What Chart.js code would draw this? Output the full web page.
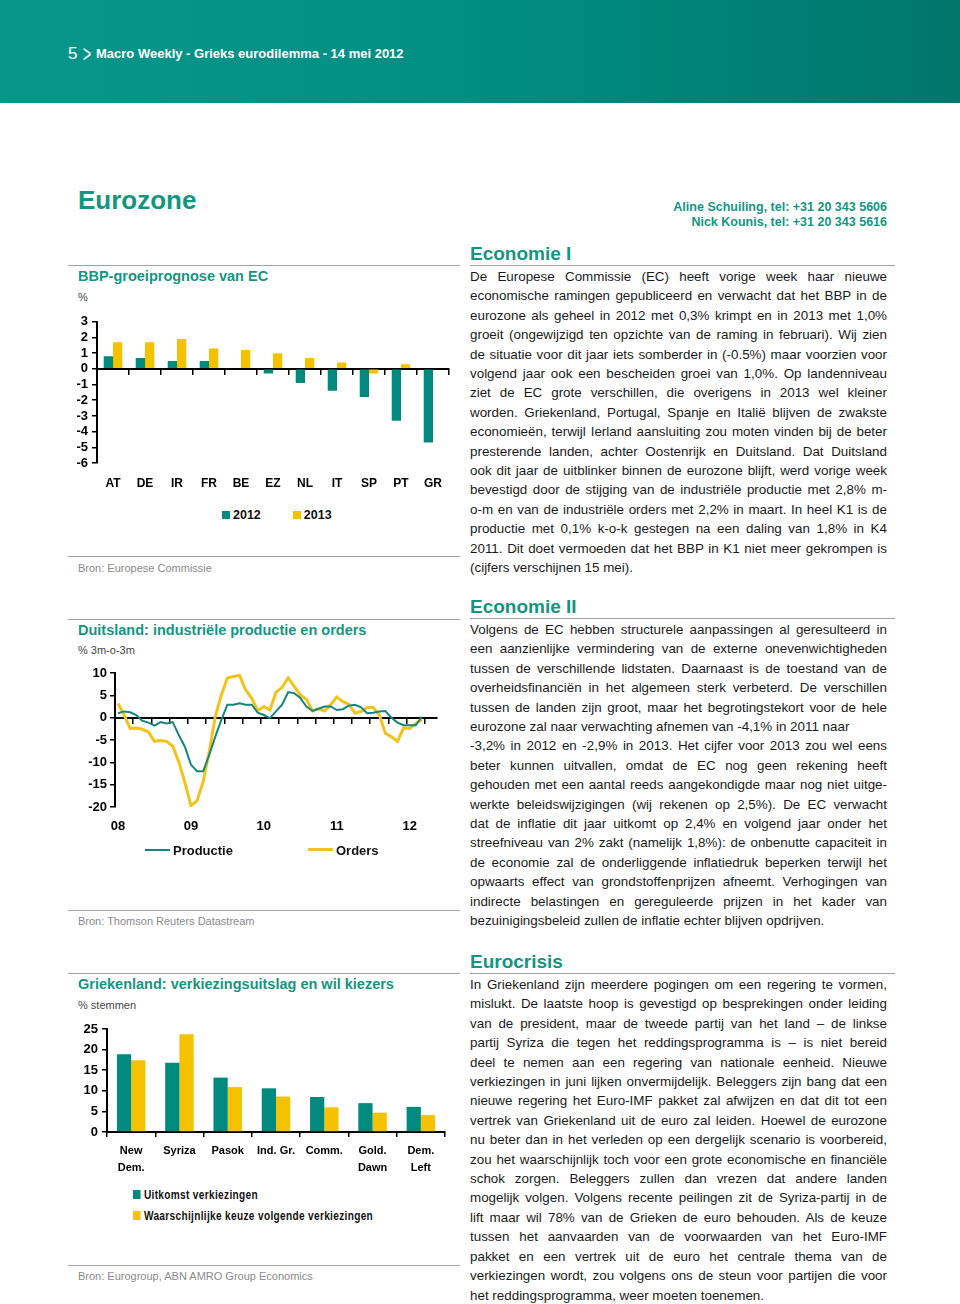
<!DOCTYPE html>
<html lang="nl">
<head>
<meta charset="UTF-8">
<title>Macro Weekly - Grieks eurodilemma</title>
<script src="https://cdn.jsdelivr.net/npm/chart.js"></script>
<style>
  body { margin: 0; background: #fff; font-family: "Liberation Sans", Arial, sans-serif; }
  #page { position: relative; width: 960px; height: 1304px; overflow: hidden; }
  .abs { position: absolute; }
  #header { left: 0; top: 0; width: 960px; height: 103px;
    background: linear-gradient(90deg, #08968a 0%, #009083 45%, #00766b 100%); }
  #header .num { left: 68px; top: 44px; color: #fff; font-size: 17px; font-weight: 300; }
  #header .chev { left: 80px; top: 40px; color: #fff; font-size: 24px; font-weight: 300; transform: scaleX(0.6); }
  #header .ttl { left: 96px; top: 46px; color: #fff; font-size: 13px; font-weight: bold; }
  .teal { color: #12967f; }
  .rule { height: 0; border-top: 1.5px solid #a0a0a0; }
  .ctitle { font-size: 14.5px; font-weight: bold; color: #12967f; left: 78px; white-space: nowrap; }
  .unit { font-size: 11px; color: #444; left: 78px; }
  .bron { font-size: 11px; color: #8a8a8a; left: 78px; }
  .head { font-size: 19px; font-weight: bold; color: #12967f; left: 470px; }
  .body { left: 470px; width: 417px; font-size: 13.4px; color: #1a1a1a; line-height: 19.4px; }
  .body div { white-space: pre; }
  .leg { font-size: 12.5px; font-weight: bold; color: #111; white-space: nowrap; }
  .sq { display: inline-block; width: 8px; height: 8px; margin-right: 3px; }
  .ln { display: inline-block; width: 25px; margin-right: 3px; vertical-align: 4px; }
  .leg3 { font-size: 12px; letter-spacing: 0.4px; transform: scaleX(0.84); transform-origin: 0 0; }
  .leg3 .sq { width: 9px; height: 9px; margin-right: 4px; }
  canvas { position: absolute; }
</style>
</head>
<body>
<div id="page">
  <div id="header" class="abs">
    <div class="abs num">5</div>
    <div class="abs chev">&gt;</div>
    <div class="abs ttl">Macro Weekly - Grieks eurodilemma - 14 mei 2012</div>
  </div>

  <div class="abs teal" style="left:78px; top:185px; font-size:26px; font-weight:bold;">Eurozone</div>
  <div class="abs teal" style="right:73px; top:200px; font-size:12.5px; font-weight:bold; text-align:right; line-height:15px;">
    Aline Schuiling, tel: +31 20 343 5606<br>Nick Kounis, tel: +31 20 343 5616
  </div>

  <!-- left column: chart 1 -->
  <div class="abs rule" style="left:68px; top:265px; width:392px;"></div>
  <div class="abs ctitle" style="top:268px;">BBP-groeiprognose van EC</div>
  <div class="abs unit" style="top:291px;">%</div>
  <canvas id="bbpChart" width="400" height="195" style="left:60px; top:310px;"></canvas>
  <div class="abs leg" id="leg1" style="left:222px; top:508px;"></div>
  <div class="abs rule" style="left:68px; top:556px; width:392px;"></div>
  <div class="abs bron" style="top:562px;">Bron: Europese Commissie</div>

  <!-- chart 2 -->
  <div class="abs rule" style="left:68px; top:619px; width:392px;"></div>
  <div class="abs ctitle" style="top:622px;">Duitsland: industriële productie en orders</div>
  <div class="abs unit" style="top:644px;">% 3m-o-3m</div>
  <canvas id="indChart" width="400" height="187" style="left:60px; top:660px;"></canvas>
  <div class="abs leg" id="leg2" style="left:145px; top:843px; font-size:13px;"></div>
  <div class="abs rule" style="left:68px; top:910px; width:392px;"></div>
  <div class="abs bron" style="top:915px;">Bron: Thomson Reuters Datastream</div>

  <!-- chart 3 -->
  <div class="abs rule" style="left:68px; top:973px; width:392px;"></div>
  <div class="abs ctitle" style="top:976px;">Griekenland: verkiezingsuitslag en wil kiezers</div>
  <div class="abs unit" style="top:999px;">% stemmen</div>
  <canvas id="grChart" width="400" height="167" style="left:60px; top:1015px;"></canvas>
  <div class="abs leg leg3" id="leg3" style="left:133px; top:1185px; line-height:21px;"></div>
  <div class="abs rule" style="left:68px; top:1265px; width:392px;"></div>
  <div class="abs bron" style="top:1270px;">Bron: Eurogroup, ABN AMRO Group Economics</div>

  <!-- right column -->
  <div class="abs head" style="top:243px;">Economie I</div>
  <div class="abs rule" style="left:470px; top:265px; width:425px;"></div>
  <div class="abs body" id="txt1" style="top:267px;"></div>

  <div class="abs head" style="top:596px;">Economie II</div>
  <div class="abs rule" style="left:470px; top:618px; width:425px;"></div>
  <div class="abs body" id="txt2" style="top:620px;"></div>

  <div class="abs head" style="top:951px;">Eurocrisis</div>
  <div class="abs rule" style="left:470px; top:973px; width:425px;"></div>
  <div class="abs body" id="txt3" style="top:975px;"></div>
</div>

<script>
// ---- chart data ----
const bbpCountries = ['AT', 'DE', 'IR', 'FR', 'BE', 'EZ', 'NL', 'IT', 'SP', 'PT', 'GR'];
const bbp2012 = [0.8, 0.7, 0.5, 0.5, 0.0, -0.3, -0.9, -1.4, -1.8, -3.3, -4.7];
const bbp2013 = [1.7, 1.7, 1.9, 1.3, 1.2, 1.0, 0.7, 0.4, -0.3, 0.3, 0.0];

// monthly, jan 2008 - mar 2012
const yearLabels = ['08', '09', '10', '11', '12'];
const productie = [1.0, 1.4, 1.2, 0.6, -0.7, -1.1, -1.8, -1.0, -1.3, -1.0, -3.9, -6.5, -10.5, -12.0, -12.0, -8.4, -4.3,
  -0.5, 2.9, 2.9, 3.2, 2.9, 2.9, 1.1, 0.6, -0.1, 1.4, 2.9, 5.7, 5.5, 4.4, 2.5, 1.5, 2.0, 2.5, 2.5, 1.7,
  1.9, 2.7, 2.9, 2.3, 1.0, 1.1, 1.4, 1.5, 0.0, -1.1, -1.7, -1.7, -1.7, 0.2];
const orders = [3.2, 0.6, -2.4, -2.3, -2.6, -3.2, -5.3, -5.1, -5.3, -6.4, -9.9, -14.5, -19.7, -18.6, -14.4, -7.7, 0.2,
  5.1, 8.9, 9.2, 9.5, 6.2, 4.4, 1.5, 2.5, 1.7, 5.7, 6.8, 8.9, 7.0, 5.1, 4.1, 1.5, 2.0, 1.5, 2.9, 4.6,
  3.6, 3.0, 1.0, 1.4, 2.3, 2.3, 0.6, -3.5, -4.3, -5.3, -2.3, -2.4, -1.3, -0.4];

const partijen = [['New', 'Dem.'], ['Syriza'], ['Pasok'], ['Ind. Gr.'], ['Comm.'], ['Gold.', 'Dawn'], ['Dem.', 'Left']];
const uitkomst = [18.9, 16.8, 13.2, 10.6, 8.5, 7.0, 6.1];
const keuze = [17.4, 23.7, 10.9, 8.6, 6.0, 4.7, 4.1];

const TEAL = '#008a7e';
const YELLOW = '#f5c200';

// month categories: jan 2008 .. may 2012
const months = [];
for (let y = 0; y < yearLabels.length; y++) {
  for (let m = 0; m < 12; m++) {
    if (y === 4 && m > 4) break;
    months.push(yearLabels[y] + '-' + (m + 1));
  }
}

Chart.defaults.font.family = '"Liberation Sans", Arial, sans-serif';
Chart.defaults.color = '#000';
Chart.defaults.animation = false;
Chart.defaults.plugins.legend.display = false;
Chart.defaults.plugins.tooltip.enabled = false;

// x axis drawn along y = 0 (ticks only, labels live on the bottom axis)
function zeroAxis(labels, tickColor) {
  return {
    type: 'category', labels: labels, position: {y: 0}, offset: true,
    grid: {drawOnChartArea: false, offset: true, tickLength: 5, color: tickColor || '#000', lineWidth: 1.5},
    border: {display: true, color: '#000', width: 2},
    ticks: {display: false}
  };
}
function yAxis(min, max, step, w, pad) {
  return {
    min: min, max: max,
    ticks: {stepSize: step, padding: pad, autoSkip: false, font: {size: 13, weight: 'bold'}},
    grid: {drawOnChartArea: false, tickLength: 5, color: '#000', lineWidth: 1.5},
    border: {display: true, color: '#000', width: 2},
    afterFit: s => { s.width = w; }
  };
}

// chart 1
new Chart(document.getElementById('bbpChart'), {
  type: 'bar',
  data: {
    labels: bbpCountries,
    datasets: [
      {label: '2012', data: bbp2012, backgroundColor: TEAL, xAxisID: 'x'},
      {label: '2013', data: bbp2013, backgroundColor: YELLOW, xAxisID: 'x'}
    ]
  },
  options: {
    responsive: false,
    layout: {padding: {top: 11, right: 11, left: 0, bottom: 0}},
    datasets: {bar: {categoryPercentage: 0.58, barPercentage: 1}},
    scales: {
      x: {
        grid: {display: false, drawTicks: false}, border: {display: false},
        ticks: {padding: 13, font: {size: 12, weight: 'bold'}, autoSkip: false, maxRotation: 0},
        afterFit: s => { s.height = 42; }
      },
      x0: zeroAxis(bbpCountries),
      y: yAxis(-6, 3, 1, 37, 4)
    }
  }
});

// chart 2
new Chart(document.getElementById('indChart'), {
  type: 'line',
  data: {
    labels: months,
    datasets: [
      {label: 'Productie', data: productie, borderColor: '#17857e', borderWidth: 2, pointRadius: 0, tension: 0, xAxisID: 'x'},
      {label: 'Orders', data: orders, borderColor: '#f2c31a', borderWidth: 3, pointRadius: 0, tension: 0, xAxisID: 'x'}
    ]
  },
  options: {
    responsive: false,
    layout: {padding: {top: 13, right: 23, left: 0, bottom: 0}},
    scales: {
      x: {
        offset: true,
        grid: {display: false, drawTicks: false}, border: {display: false},
        ticks: {padding: 12, font: {size: 13, weight: 'bold'}, autoSkip: false, maxRotation: 0,
          callback: (v, i) => (i % 12 === 0 ? yearLabels[i / 12] : '')},
        afterFit: s => { s.height = 40; }
      },
      x0: zeroAxis(months, c => (c.index % 3 === 0 ? '#000' : 'rgba(0,0,0,0)')),
      y: yAxis(-20, 10, 5, 55, 3)
    }
  }
});

// chart 3
new Chart(document.getElementById('grChart'), {
  type: 'bar',
  data: {
    labels: partijen,
    datasets: [
      {label: 'Uitkomst verkiezingen', data: uitkomst, backgroundColor: TEAL},
      {label: 'Waarschijnlijke keuze volgende verkiezingen', data: keuze, backgroundColor: YELLOW}
    ]
  },
  options: {
    responsive: false,
    layout: {padding: {top: 14, right: 15, left: 0, bottom: 0}},
    datasets: {bar: {categoryPercentage: 0.59, barPercentage: 1}},
    scales: {
      x: {
        grid: {drawOnChartArea: false, offset: true, tickLength: 5, color: '#000', lineWidth: 1.5},
        border: {display: true, color: '#000', width: 2},
        ticks: {padding: 5, autoSkip: false, maxRotation: 0,
          font: {size: 11, weight: 'bold', lineHeight: 1.6}},
        afterFit: s => { s.height = 50; }
      },
      y: yAxis(0, 25, 5, 47, 4)
    }
  }
});

// html legends
function squareLegend(id, items, gap, vertical) {
  const el = document.getElementById(id);
  items.forEach((it, i) => {
    const span = document.createElement(vertical ? 'div' : 'span');
    if (!vertical && i > 0) span.style.marginLeft = gap + 'px';
    span.innerHTML = '<span class="sq" style="background:' + it[1] + '"></span>' + it[0];
    el.appendChild(span);
  });
}
squareLegend('leg1', [['2012', TEAL], ['2013', YELLOW]], 32, false);
squareLegend('leg3', [['Uitkomst verkiezingen', TEAL], ['Waarschijnlijke keuze volgende verkiezingen', YELLOW]], 0, true);
(function () {
  const el = document.getElementById('leg2');
  el.innerHTML = '<span class="ln" style="border-top:2px solid #17857e"></span>Productie' +
    '<span class="ln" style="border-top:3px solid #f2c31a; margin-left:75px"></span>Orders';
})();

// ---- body text ----
const economie1 = [
  'De Europese Commissie (EC) heeft vorige week haar nieuwe',
  'economische ramingen gepubliceerd en verwacht dat het BBP in de',
  'eurozone als geheel in 2012 met 0,3% krimpt en in 2013 met 1,0%',
  'groeit (ongewijzigd ten opzichte van de raming in februari). Wij zien',
  'de situatie voor dit jaar iets somberder in (-0.5%) maar voorzien voor',
  'volgend jaar ook een bescheiden groei van 1,0%. Op landenniveau',
  'ziet de EC grote verschillen, die overigens in 2013 wel kleiner',
  'worden. Griekenland, Portugal, Spanje en Italië blijven de zwakste',
  'economieën, terwijl Ierland aansluiting zou moten vinden bij de beter',
  'presterende landen, achter Oostenrijk en Duitsland. Dat Duitsland',
  'ook dit jaar de uitblinker binnen de eurozone blijft, werd vorige week',
  'bevestigd door de stijging van de industriële productie met 2,8% m-',
  'o-m en van de industriële orders met 2,2% in maart. In heel K1 is de',
  'productie met 0,1% k-o-k gestegen na een daling van 1,8% in K4',
  '2011. Dit doet vermoeden dat het BBP in K1 niet meer gekrompen is',
  '(cijfers verschijnen 15 mei).'
];
const economie2 = [
  'Volgens de EC hebben structurele aanpassingen al geresulteerd in',
  'een aanzienlijke vermindering van de externe onevenwichtigheden',
  'tussen de verschillende lidstaten. Daarnaast is de toestand van de',
  'overheidsfinanciën in het algemeen sterk verbeterd. De verschillen',
  'tussen de landen zijn groot, maar het begrotingstekort voor de hele',
  'eurozone zal naar verwachting afnemen van -4,1% in 2011 naar',
  '-3,2% in 2012 en -2,9% in 2013. Het cijfer voor 2013 zou wel eens',
  'beter kunnen uitvallen, omdat de EC nog geen rekening heeft',
  'gehouden met een aantal reeds aangekondigde maar nog niet uitge-',
  'werkte beleidswijzigingen (wij rekenen op 2,5%). De EC verwacht',
  'dat de inflatie dit jaar uitkomt op 2,4% en volgend jaar onder het',
  'streefniveau van 2% zakt (namelijk 1,8%): de onbenutte capaciteit in',
  'de economie zal de onderliggende inflatiedruk beperken terwijl het',
  'opwaarts effect van grondstoffenprijzen afneemt. Verhogingen van',
  'indirecte belastingen en gereguleerde prijzen in het kader van',
  'bezuinigingsbeleid zullen de inflatie echter blijven opdrijven.'
];
const eurocrisis = [
  'In Griekenland zijn meerdere pogingen om een regering te vormen,',
  'mislukt. De laatste hoop is gevestigd op besprekingen onder leiding',
  'van de president, maar de tweede partij van het land \u2013 de linkse',
  'partij Syriza die tegen het reddingsprogramma is \u2013 is niet bereid',
  'deel te nemen aan een regering van nationale eenheid. Nieuwe',
  'verkiezingen in juni lijken onvermijdelijk. Beleggers zijn bang dat een',
  'nieuwe regering het Euro-IMF pakket zal afwijzen en dat dit tot een',
  'vertrek van Griekenland uit de euro zal leiden. Hoewel de eurozone',
  'nu beter dan in het verleden op een dergelijk scenario is voorbereid,',
  'zou het waarschijnlijk toch voor een grote economische en financiële',
  'schok zorgen. Beleggers zullen dan vrezen dat andere landen',
  'mogelijk volgen. Volgens recente peilingen zit de Syriza-partij in de',
  'lift maar wil 78% van de Grieken de euro behouden. Als de keuze',
  'tussen het aanvaarden van de voorwaarden van het Euro-IMF',
  'pakket en een vertrek uit de euro het centrale thema van de',
  'verkiezingen wordt, zou volgens ons de steun voor partijen die voor',
  'het reddingsprogramma, weer moeten toenemen.'
];

function setText(id, lines, leftLines) {
  const box = document.getElementById(id);
  const spans = lines.map(t => {
    const d = document.createElement('div');
    const s = document.createElement('span');
    s.textContent = t;
    d.appendChild(s);
    box.appendChild(d);
    return s;
  });
  spans.forEach((s, i) => {
    const last = i === lines.length - 1;
    const w = s.getBoundingClientRect().width;
    const gaps = (lines[i].match(/ /g) || []).length;
    if (gaps && (!last && leftLines.indexOf(i) < 0 || w > 417)) {
      s.style.wordSpacing = ((417 - w) / gaps) + 'px';
    }
  });
}
setText('txt1', economie1, []);
setText('txt2', economie2, [5]);
setText('txt3', eurocrisis, []);
</script>
</body>
</html>
